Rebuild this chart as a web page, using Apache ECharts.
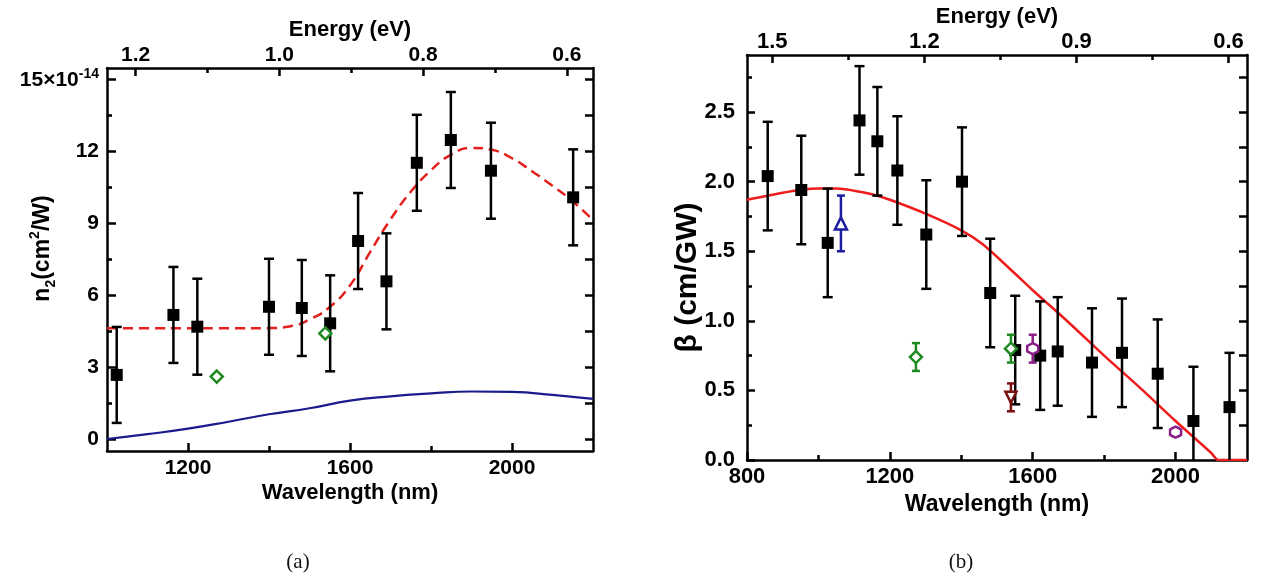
<!DOCTYPE html>
<html><head><meta charset="utf-8">
<script src="https://cdn.jsdelivr.net/npm/echarts@6/dist/echarts.min.js"></script>
<style>html,body{margin:0;padding:0;background:#fff}#c{width:1269px;height:583px}</style>
</head><body><div id="c"></div>
<script>
// ---------- Panel (a): n2 (x1e-14 cm^2/W) vs wavelength ----------
const aWl   = [1024, 1164, 1223, 1400, 1481, 1551, 1620, 1690, 1765, 1849, 1948, 2151];
const aN2   = [2.67, 5.17, 4.68, 5.51, 5.46, 4.82, 8.25, 6.57, 11.51, 12.46, 11.18, 10.07];
const aErr  = [2.0, 2.0, 2.0, 2.0, 2.0, 2.0, 2.0, 2.0, 2.0, 2.0, 2.0, 2.0];
const aGreenWl = [1271, 1539];
const aGreenN2 = [2.6, 4.4];
const aFitWl = [1000, 1100, 1200, 1300, 1400, 1450, 1500, 1550, 1600, 1650, 1700, 1750, 1800, 1850, 1900, 1950, 2000, 2050, 2100, 2150, 2200];
const aFitN2 = [4.61, 4.61, 4.61, 4.61, 4.62, 4.69, 4.98, 5.5, 6.4, 7.8, 9.15, 10.3, 11.2, 11.85, 12.13, 12.05, 11.7, 11.15, 10.55, 9.9, 9.12];
const aBlueWl = [1000, 1100, 1200, 1300, 1400, 1500, 1600, 1700, 1800, 1900, 2000, 2100, 2200];
const aBlueN2 = [0.0, 0.2, 0.43, 0.72, 1.03, 1.28, 1.6, 1.78, 1.9, 1.98, 1.96, 1.84, 1.67];
const aXMajor = [1200, 1600, 2000];
const aXMinor = [1400, 1800];
const aYMajor = [0, 3, 6, 9, 12, 15];
const aYMinor = [1.5, 4.5, 7.5, 10.5, 13.5];
const aYRight = [0, 1.5, 3, 4.5, 6, 7.5, 9, 10.5, 12, 13.5, 15];
const aEMajor = [0.6, 0.8, 1.0, 1.2];
const aEMinor = [0.7, 0.9, 1.1];

// ---------- Panel (b): beta (cm/GW) vs wavelength ----------
const bWl   = [858, 952, 1026, 1115, 1165, 1221, 1302, 1402, 1481, 1551, 1621, 1670, 1766, 1850, 1950, 2050, 2151];
const bBeta = [2.04, 1.94, 1.56, 2.44, 2.29, 2.08, 1.62, 2.0, 1.2, 0.79, 0.75, 0.78, 0.7, 0.77, 0.62, 0.28, 0.38];
const bErr  = [0.39, 0.39, 0.39, 0.39, 0.39, 0.39, 0.39, 0.39, 0.39, 0.39, 0.39, 0.39, 0.39, 0.39, 0.39, 0.39, 0.39];
const bTriUp   = [[1063, 1.70, 0.2]];
const bDiamond = [[1273, 0.74, 0.1], [1539, 0.80, 0.1]];
const bTriDown = [[1539, 0.45, 0.1]];
const bHex     = [[1600, 0.80, 0.1], [2000, 0.20, 0.03]];
const bFitWl   = [800, 900, 950, 1000, 1050, 1100, 1150, 1200, 1300, 1400, 1460, 1550, 1600, 1700, 1800, 1900, 2000, 2050, 2100, 2120, 2200];
const bFitBeta = [1.87, 1.92, 1.94, 1.95, 1.95, 1.935, 1.91, 1.87, 1.77, 1.65, 1.55, 1.34, 1.22, 0.99, 0.75, 0.52, 0.28, 0.165, 0.05, 0.0, 0.0];
const bXMajor = [800, 1200, 1600, 2000];
const bXMinor = [1000, 1400, 1800];
const bYMajor = [0, 0.5, 1.0, 1.5, 2.0, 2.5];
const bYMinor = [0.25, 0.75, 1.25, 1.75, 2.25, 2.75];
const bYRight = [0.25, 0.5, 0.75, 1.0, 1.25, 1.5, 1.75, 2.0, 2.25, 2.5, 2.75];
const bEMajor = [0.6, 0.9, 1.2, 1.5];
const bEMinor = [0.75, 1.05, 1.35];

const zip = (xs, ys) => xs.map((x, i) => [x, ys[i]]);
const zip3 = (xs, ys, es) => xs.map((x, i) => [x, ys[i], es[i]]);

const FONT = 'Liberation Sans';
const BLACK = '#000';

function axis(grid, position, min, max, ticks, len, labels, extra) {
  const a = {
    type: 'value', gridIndex: grid, position: position, min: min, max: max,
    axisLine: { show: !!(extra && extra.line), onZero: false, lineStyle: { color: BLACK, width: 2.5 } },
    axisTick: { show: true, inside: true, length: len, customValues: ticks, lineStyle: { color: BLACK, width: 2.5 } },
    axisLabel: { show: !!labels, customValues: labels || undefined, color: BLACK, fontFamily: FONT, fontWeight: 'bold', fontSize: 21, margin: 8, formatter: v => String(v) },
    splitLine: { show: false }, minorTick: { show: false }, minorSplitLine: { show: false }
  };
  if (extra) {
    if (extra.inverse) a.inverse = true;
    if (extra.label) Object.assign(a.axisLabel, extra.label);
    if (extra.name) {
      a.name = extra.name; a.nameLocation = 'middle'; a.nameGap = extra.nameGap;
      a.nameMoveOverlap = false;
      a.nameTextStyle = Object.assign({ color: BLACK, fontFamily: FONT, fontWeight: 'bold', fontSize: 22 }, extra.nameStyle || {});
    }
  }
  return a;
}

function errSeries(xi, yi, data, color, capHalf, lw) {
  return {
    type: 'custom', xAxisIndex: xi, yAxisIndex: yi, data: data, z: 3, silent: true,
    encode: { x: 0, y: 1 },
    renderItem: function (params, api) {
      const x = api.value(0), y = api.value(1), e = api.value(2);
      const cs = params.coordSys;
      const p1 = api.coord([x, y + e]), p2 = api.coord([x, y - e]);
      const top = cs.y, bot = cs.y + cs.height;
      const st = { stroke: color, lineWidth: lw };
      const ch = [{ type: 'line', shape: { x1: p1[0], y1: Math.max(p1[1], top), x2: p1[0], y2: Math.min(p2[1], bot) }, style: st }];
      if (p1[1] >= top) ch.push({ type: 'line', shape: { x1: p1[0] - capHalf, y1: p1[1], x2: p1[0] + capHalf, y2: p1[1] }, style: st });
      if (p2[1] <= bot) ch.push({ type: 'line', shape: { x1: p2[0] - capHalf, y1: p2[1], x2: p2[0] + capHalf, y2: p2[1] }, style: st });
      return { type: 'group', children: ch };
    }
  };
}

const eA = [1239.84 / 2200, 1239.84 / 1000];
const eB = [1239.84 / 2200, 1239.84 / 800];
const HEX = 'path://M0,-10L8.66,-5L8.66,5L0,10L-8.66,5L-8.66,-5Z';
const mk = (color, fill) => ({ color: fill || color, borderColor: color, borderWidth: 2.5, opacity: 1 });

const option = {
  backgroundColor: '#fff',
  animation: false,
  grid: [
    { left: 107, top: 68, width: 486, height: 383, containLabel: false, outerBoundsMode: 'none' },
    { left: 747, top: 55, width: 500, height: 405, containLabel: false, outerBoundsMode: 'none' }
  ],
  xAxis: [
    axis(0, 'bottom', 1000, 2200, aXMajor, 8, aXMajor, { line: true, name: 'Wavelength (nm)', nameGap: 31, label: { margin: 7 } }),
    axis(0, 'bottom', 1000, 2200, aXMinor, 5, null),
    axis(0, 'top', eA[0], eA[1], aEMajor, 8, aEMajor, { line: true, inverse: true, name: 'Energy (eV)', nameGap: 27, label: { margin: 2, formatter: v => v.toFixed(1) } }),
    axis(0, 'top', eA[0], eA[1], aEMinor, 5, null, { inverse: true }),
    axis(1, 'bottom', 800, 2200, bXMajor, 8, bXMajor, { line: true, name: 'Wavelength (nm)', nameGap: 33, nameStyle: { fontSize: 23 }, label: { margin: 6, fontSize: 22 } }),
    axis(1, 'bottom', 800, 2200, bXMinor, 5, null),
    axis(1, 'top', eB[0], eB[1], bEMajor, 8, bEMajor, { line: true, inverse: true, name: 'Energy (eV)', nameGap: 27, label: { margin: 2, fontSize: 22, formatter: v => v.toFixed(1) } }),
    axis(1, 'top', eB[0], eB[1], bEMinor, 5, null, { inverse: true })
  ],
  yAxis: [
    axis(0, 'left', -0.5, 15.46, aYMajor, 9, aYMajor, {
      line: true, name: '{b|n}{sub|2}{b|(cm}{sup|2}{b|/W)}', nameGap: 49,
      nameStyle: { padding: [0, 0, 0, 22], rich: {
        b: { fontFamily: FONT, fontWeight: 'bold', fontSize: 23, lineHeight: 30, verticalAlign: 'middle', color: BLACK },
        sub: { fontFamily: FONT, fontWeight: 'bold', fontSize: 14, lineHeight: 14, verticalAlign: 'bottom', color: BLACK },
        sup: { fontFamily: FONT, fontWeight: 'bold', fontSize: 14, lineHeight: 14, verticalAlign: 'top', color: BLACK }
      } },
      label: { margin: 8, formatter: v => v === 15 ? '{a|15×10}{s|-14}' : String(v), rich: {
        a: { fontFamily: FONT, fontWeight: 'bold', fontSize: 21, lineHeight: 24, verticalAlign: 'bottom', color: BLACK },
        s: { fontFamily: FONT, fontWeight: 'bold', fontSize: 14, lineHeight: 14, verticalAlign: 'top', color: BLACK }
      } }
    }),
    axis(0, 'left', -0.5, 15.46, aYMinor, 5, null),
    axis(0, 'right', -0.5, 15.46, aYRight, 8, null, { line: true }),
    axis(1, 'left', 0, 2.91, bYMajor, 8, bYMajor, { line: true, name: 'β (cm/GW)', nameGap: 44, nameStyle: { fontSize: 30, padding: [0, 40, 0, 0] }, label: { margin: 12, fontSize: 22, formatter: v => v.toFixed(1) } }),
    axis(1, 'left', 0, 2.91, bYMinor, 5, null),
    axis(1, 'right', 0, 2.91, bYRight, 8, null, { line: true })
  ],
  series: [
    // panel (a)
    { type: 'line', xAxisIndex: 0, yAxisIndex: 0, data: zip(aBlueWl, aBlueN2), smooth: 0.5, showSymbol: false, silent: true, lineStyle: { color: '#1a1a8c', width: 2.2 }, z: 2 },
    { type: 'line', xAxisIndex: 0, yAxisIndex: 0, data: zip(aFitWl, aFitN2), smooth: 0.5, showSymbol: false, silent: true, lineStyle: { color: '#e3201b', width: 2.5, type: [10, 6] }, z: 2 },
    errSeries(0, 0, zip3(aWl, aN2, aErr), BLACK, 5, 2.5),
    { type: 'scatter', xAxisIndex: 0, yAxisIndex: 0, data: zip(aWl, aN2), symbol: 'rect', symbolSize: 12, itemStyle: { color: BLACK, opacity: 1 }, z: 4 },
    { type: 'scatter', xAxisIndex: 0, yAxisIndex: 0, data: zip(aGreenWl, aGreenN2), symbol: 'diamond', symbolSize: 12, itemStyle: mk('#1f8a1f', '#fff'), z: 4 },
    // panel (b)
    { type: 'line', xAxisIndex: 4, yAxisIndex: 3, data: zip(bFitWl, bFitBeta), smooth: 0.3, showSymbol: false, silent: true, lineStyle: { color: '#ee1c1c', width: 2.5 }, z: 2 },
    errSeries(4, 3, zip3(bWl, bBeta, bErr), BLACK, 5, 2.5),
    { type: 'scatter', xAxisIndex: 4, yAxisIndex: 3, data: zip(bWl, bBeta), symbol: 'rect', symbolSize: 12, itemStyle: { color: BLACK, opacity: 1 }, z: 4 },
    errSeries(4, 3, bTriUp, '#1c1ca0', 4, 2.5),
    { type: 'scatter', xAxisIndex: 4, yAxisIndex: 3, data: bTriUp.map(d => [d[0], d[1]]), symbol: 'triangle', symbolSize: 12, itemStyle: mk('#1c1ca0', '#fff'), z: 4 },
    errSeries(4, 3, bDiamond, '#1f8a1f', 4, 2.5),
    { type: 'scatter', xAxisIndex: 4, yAxisIndex: 3, data: bDiamond.map(d => [d[0], d[1]]), symbol: 'diamond', symbolSize: 12, itemStyle: mk('#1f8a1f', '#fff'), z: 4 },
    errSeries(4, 3, bTriDown, '#7a1010', 4, 2.5),
    { type: 'scatter', xAxisIndex: 4, yAxisIndex: 3, data: bTriDown.map(d => [d[0], d[1]]), symbol: 'triangle', symbolRotate: 180, symbolSize: 11, itemStyle: mk('#7a1010', '#fff'), z: 4 },
    errSeries(4, 3, bHex, '#8a1f8a', 4, 2.5),
    { type: 'scatter', xAxisIndex: 4, yAxisIndex: 3, data: bHex.map(d => [d[0], d[1]]), symbol: HEX, symbolSize: 11, itemStyle: mk('#8a1f8a', '#fff'), z: 4 }
  ],
  graphic: [
    { type: 'text', x: 298, y: 562, style: { text: '(a)', font: '21px "Liberation Serif"', fill: '#111', align: 'center', verticalAlign: 'middle' } },
    { type: 'text', x: 961, y: 562, style: { text: '(b)', font: '21px "Liberation Serif"', fill: '#111', align: 'center', verticalAlign: 'middle' } }
  ]
};

const chart = echarts.init(document.getElementById('c'), null, { renderer: 'canvas' });
chart.setOption(option);
</script>
</body></html>
